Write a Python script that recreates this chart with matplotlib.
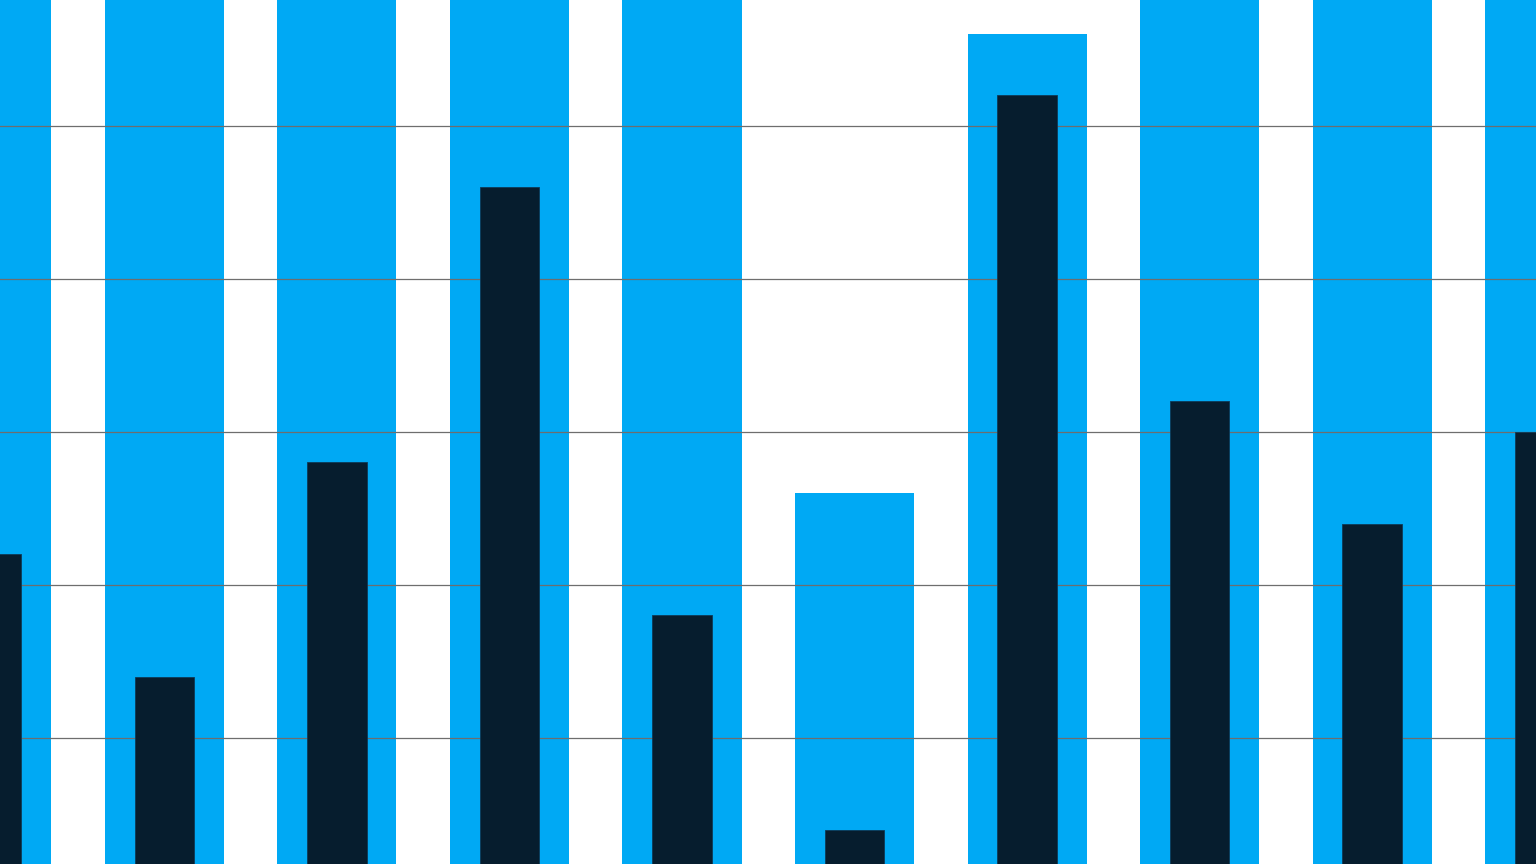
import numpy as np
import matplotlib
matplotlib.use("Agg")
import matplotlib.pyplot as plt

# --- dane ---
kategorie = np.arange(10)
tlo_wartosci = [62, 62, 62, 62, 62, 26, 56, 62, 62, 62]
wartosci = [22, 14, 28, 46, 18, 4, 52, 32, 24, 30]
siatka_y = [10, 20, 30, 40, 50]

NIEBIESKI = "#00a9f4"
GRANAT = "#061d2e"

fig = plt.figure(figsize=(15.36, 8.64), dpi=100)
ax = fig.add_axes([0, 0, 1, 1])

ax.bar(kategorie, tlo_wartosci, width=0.69, color=NIEBIESKI, zorder=1)
ax.bar(kategorie, wartosci, width=0.345, color=GRANAT,
       edgecolor="#0d3a57", linewidth=0.6, zorder=3)

ax.set_yticks(siatka_y)
ax.yaxis.grid(True, color="#6e6e6e", linewidth=0.9, zorder=2)
ax.set_axisbelow(False)
ax.tick_params(left=False, bottom=False, labelleft=False, labelbottom=False)
for s in ax.spines.values():
    s.set_visible(False)

ax.set_xlim(0.048, 8.949)
ax.set_ylim(1.745, 58.22)

fig.savefig("out.png", dpi=100)
